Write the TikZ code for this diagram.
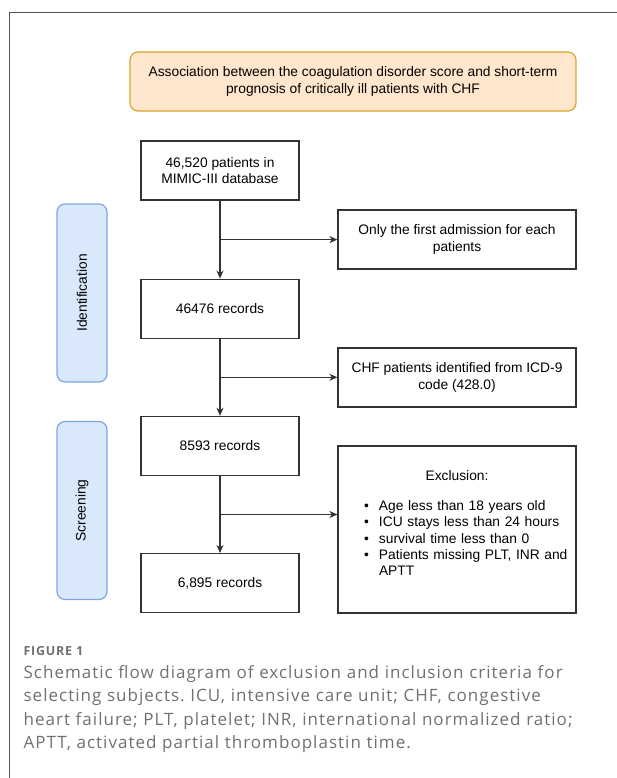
\documentclass[tikz,border=0pt]{standalone}
\usepackage{fontspec}
\setmainfont{Liberation Sans}
\newfontfamily\capfont[LetterSpace=6]{Open Sans}
\usetikzlibrary{arrows.meta, calc, positioning}
\definecolor{edge}{HTML}{333333}
\definecolor{titlefill}{HTML}{FFE6CC}
\definecolor{titleedge}{HTML}{DDA42E}
\definecolor{phasefill}{HTML}{DAE8FC}
\definecolor{phaseedge}{HTML}{7EA6E0}
\definecolor{capgray}{HTML}{707070}
\tikzstyle{flow}=[x=1pt, y=1pt, line width=1.2pt, draw=edge,
  >={Stealth[length=8pt, width=7pt, inset=2.5pt]},
  font=\fontsize{13.8}{16.2}\selectfont]
\tikzstyle{box}=[draw=edge, fill=white, minimum width=158pt, minimum height=59pt, align=center, inner sep=2pt]
\tikzstyle{side}=[box, minimum width=238pt]
\tikzstyle{phase}=[draw=phaseedge, fill=phasefill, rounded corners=8pt, rotate=90, minimum width=178pt, minimum height=50pt]
\newcommand{\exitem}[1]{\hspace*{14pt}\makebox[15pt][l]{\textbullet}\mbox{#1}}
\frenchspacing

\begin{document}
\begin{tikzpicture}[flow]
  \useasboundingbox (0,0) rectangle (617,-778);
  \draw[color=edge!85, line width=1.3pt] (9.5,-778) -- (9.5,-12.5) -- (617,-12.5);

  \node[draw=titleedge, fill=titlefill, rounded corners=8pt, minimum width=446pt, minimum height=59pt, align=center] (top) at (353,-81.5)
    {Association between the coagulation disorder score and short-term\\prognosis of critically ill patients with CHF};

  \node[box] (0) at (220,-170.5) {46,520 patients in\\MIMIC-III database};
  \node[box] (1) [below=78pt of 0] {46476 records};
  \node[box] (2) [below=77pt of 1] {8593 records};
  \node[box] (3) [below=77pt of 2] {6,895 records};

  \node[side] (x1) at (457,-239.5) {Only the first admission for each\\patients};
  \node[side] (x2) at (457,-377.5) {CHF patients identified from ICD-9\\code (428.0)};
  \node[side, minimum height=167pt, text width=214pt, align=left] (x3) at (457,-529.5)
    {\makebox[214pt][c]{Exclusion:}\\[14pt]
     \exitem{Age less than 18 years old}\\
     \exitem{ICU stays less than 24 hours}\\
     \exitem{survival time less than 0}\\
     \exitem{Patients missing PLT, INR and}\\
     \hspace*{29pt}APTT\\[-3pt]~};

  \node[phase] (id) at (82,-293) {Identification};
  \node[phase] (scr) at (82,-510.5) {Screening};

  \coordinate (j1) at ($(0.south)!.5!(1.north)$);
  \coordinate (j2) at ($(1.south)!.5!(2.north)$);
  \coordinate (j3) at ($(2.south)!.5!(3.north)$);
  \draw[->] (0) -- (1);
  \draw[->] (1) -- (2);
  \draw[->] (2) -- (3);
  \draw[->] (j1) -- (j1 -| x1.west);
  \draw[->] (j2) -- (j2 -| x2.west);
  \draw[->] (j3) -- (j3 -| x3.west);

  \node[anchor=base west, inner sep=0pt, text=capgray, font=\capfont\bfseries\fontsize{12.5}{15}\selectfont] (fig) at (23,-655) {FIGURE 1};
  \node[anchor=north west, inner sep=0pt, text=capgray, align=left, text width=590pt, font=\capfont\fontsize{17}{23.3}\selectfont] (cap) at (23,-665)
    {Schematic flow diagram of exclusion and inclusion criteria for\\
     selecting subjects. ICU, intensive care unit; CHF, congestive\\
     heart failure; PLT, platelet; INR, international normalized ratio;\\
     APTT, activated partial thromboplastin time.};
\end{tikzpicture}
\end{document}
